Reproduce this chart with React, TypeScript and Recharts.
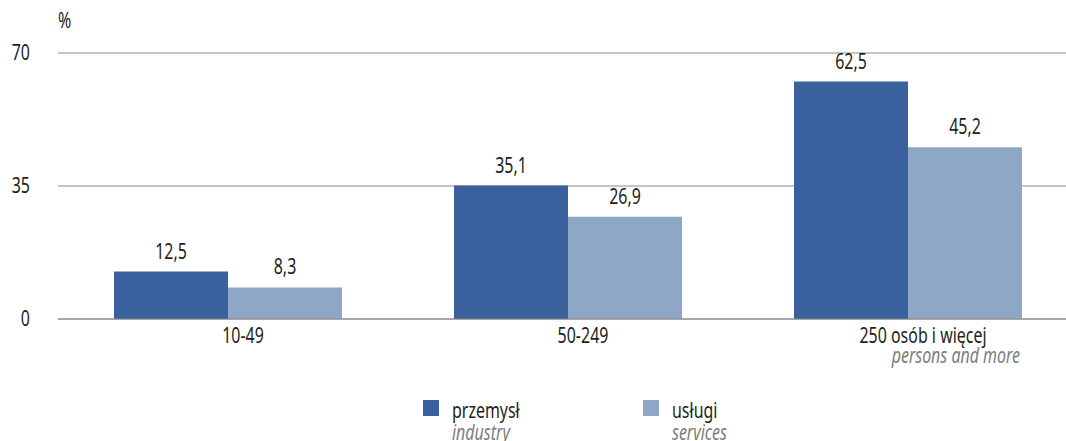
import { BarChart, Bar, XAxis, YAxis, CartesianGrid, LabelList } from "recharts";

const categories = ["10-49", "50-249", "250 osób i więcej"];
const categorySubtitles = ["", "", "persons and more"];
const industry = [12.5, 35.1, 62.5];
const services = [8.3, 26.9, 45.2];
const yTicks = [0, 35, 70];

const seriesNames = [
  { key: "przemysl", label: "przemysł", sub: "industry", color: "#3A609E" },
  { key: "uslugi", label: "usługi", sub: "services", color: "#8EA7C7" },
];

// condensed look: no condensed face is installed, so squeeze Noto Sans horizontally
const FONT = '"Noto Sans", sans-serif';
const FS = 21;
const SX = 0.76;
const TEXT = "#231f20";
const GREY = "#7d7d7d";

const data = categories.map((name, i) => ({
  name,
  przemysl: industry[i],
  uslugi: services[i],
}));

const fmt = (v: number) => v.toFixed(1).replace(".", ",");

function SText({ x, y, anchor = "middle", fill = TEXT, italic = false, children }: any) {
  return (
    <text
      transform={`translate(${x},${y}) scale(${SX},1)`}
      textAnchor={anchor}
      fill={fill}
      fontSize={FS}
      fontFamily={FONT}
      fontStyle={italic ? "italic" : "normal"}
    >
      {children}
    </text>
  );
}

function CategoryTick({ x, y, payload, index }: any) {
  const sub = categorySubtitles[index];
  return (
    <g>
      <SText x={x + 15} y={y + 16}>{payload.value}</SText>
      {sub ? (
        <SText x={x + 112} y={y + 36} anchor="end" fill={GREY} italic>
          {sub}
        </SText>
      ) : null}
    </g>
  );
}

function ValueTick({ x, y, payload }: any) {
  return (
    <SText x={30} y={y + 7} anchor="end">
      {payload.value}
    </SText>
  );
}

function ValueLabel({ x, y, width, value }: any) {
  return (
    <SText x={x + width / 2} y={y - 13}>
      {fmt(value)}
    </SText>
  );
}

const squeeze = {
  display: "inline-block",
  transform: `scaleX(${SX})`,
  transformOrigin: "left",
  whiteSpace: "nowrap" as const,
};

function LegendBox() {
  return (
    <div style={{ position: "absolute", left: 423, top: 399, fontFamily: FONT, display: "flex" }}>
      {seriesNames.map((s, i) => (
        <div key={s.key} style={{ display: "flex", width: i === 0 ? 220 : 120 }}>
          <div style={{ width: 16, height: 16, background: s.color, marginTop: 1, marginRight: 13 }} />
          <div style={{ lineHeight: "22px", fontSize: FS }}>
            <div style={{ color: TEXT, height: 22 }}>
              <span style={squeeze}>{s.label}</span>
            </div>
            <div style={{ color: GREY, fontStyle: "italic", height: 22 }}>
              <span style={squeeze}>{s.sub}</span>
            </div>
          </div>
        </div>
      ))}
    </div>
  );
}

export default function App() {
  return (
    <div style={{ position: "absolute", left: 0, top: 0, width: 1066, height: 441, overflow: "hidden", background: "#fff" }}>
      <div style={{ position: "absolute", left: 58, top: 6, fontFamily: FONT, fontSize: FS, color: TEXT }}>
        <span style={squeeze}>%</span>
      </div>
      <BarChart
        width={1080}
        height={441}
        data={data}
        margin={{ top: 53, right: 2, left: 0, bottom: 0 }}
        barGap={0}
        barSize={114}
      >
        <CartesianGrid vertical={false} stroke="#8a8a8a" strokeWidth={1} />
        <XAxis
          dataKey="name"
          height={122}
          axisLine={{ stroke: "#8a8a8a" }}
          tickLine={false}
          tick={<CategoryTick />}
          interval={0}
        />
        <YAxis
          width={58}
          domain={[0, 70]}
          ticks={yTicks}
          axisLine={false}
          tickLine={false}
          tick={<ValueTick />}
        />
        <Bar dataKey="przemysl" fill={seriesNames[0].color} isAnimationActive={false}>
          <LabelList dataKey="przemysl" content={<ValueLabel />} />
        </Bar>
        <Bar dataKey="uslugi" fill={seriesNames[1].color} isAnimationActive={false}>
          <LabelList dataKey="uslugi" content={<ValueLabel />} />
        </Bar>
      </BarChart>
      <LegendBox />
    </div>
  );
}
